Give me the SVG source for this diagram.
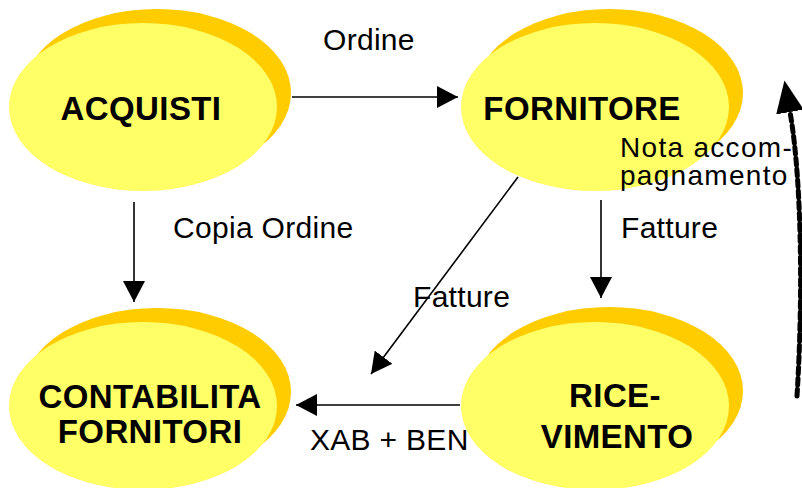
<svg xmlns="http://www.w3.org/2000/svg" width="802" height="488" viewBox="0 0 802 488">
  <style>
    .shadow { fill: #FFCC00; }
    .body { fill: #FFFF66; }
    .name { font-family: "Liberation Sans", Arial, sans-serif; font-weight: bold; font-size: 33px; text-anchor: middle; fill: #000; letter-spacing: 0.4px; }
    .lbl { font-family: "Liberation Sans", Arial, sans-serif; font-size: 30px; fill: #000; letter-spacing: 0.3px; }
    .note { font-family: "Liberation Sans", Arial, sans-serif; font-size: 28px; fill: #000; letter-spacing: 1.3px; }
    .flow { stroke: #000; stroke-width: 1.6; fill: none; marker-end: url(#arrow); }
    .dash { stroke: #000; stroke-width: 5; fill: none; stroke-dasharray: 7 4; stroke-linecap: round; marker-end: url(#bigarrow); }
  </style>
  <defs>
    <marker id="arrow" viewBox="0 0 21 22" refX="21" refY="11" markerWidth="21" markerHeight="22" markerUnits="userSpaceOnUse" orient="auto">
      <path d="M0,0 L21,11 L0,22 z" fill="#000"/>
    </marker>
    <marker id="bigarrow" viewBox="0 0 32 28" refX="0" refY="14" markerWidth="32" markerHeight="28" markerUnits="userSpaceOnUse" orient="auto">
      <path d="M0,0 L32,14 L0,28 z" fill="#000" stroke="none"/>
    </marker>
  </defs>

  <rect width="802" height="488" fill="#fff"/>

  <!-- nodes: orange offset ellipse behind a yellow ellipse -->
  <g id="acquisti">
    <ellipse class="shadow" cx="157" cy="93" rx="134" ry="84"/>
    <ellipse class="body" cx="143" cy="107" rx="134" ry="84"/>
    <text class="name" x="141" y="120">ACQUISTI</text>
  </g>
  <g id="fornitore">
    <ellipse class="shadow" cx="609" cy="93" rx="134" ry="84"/>
    <ellipse class="body" cx="595" cy="107" rx="134" ry="84"/>
    <text class="name" x="582" y="120">FORNITORE</text>
  </g>
  <g id="contabilita">
    <ellipse class="shadow" cx="157" cy="392" rx="134" ry="84"/>
    <ellipse class="body" cx="143" cy="406" rx="134" ry="84"/>
    <text class="name" x="150" y="408">CONTABILITA</text>
    <text class="name" x="150" y="443">FORNITORI</text>
  </g>
  <g id="ricevimento">
    <ellipse class="shadow" cx="609" cy="391" rx="134" ry="84"/>
    <ellipse class="body" cx="595" cy="406" rx="134" ry="84"/>
    <text class="name" x="615" y="407">RICE-</text>
    <text class="name" x="617" y="448">VIMENTO</text>
  </g>

  <!-- connectors -->
  <g id="connectors">
    <line class="flow" x1="292" y1="97" x2="458" y2="97"/>
    <line class="flow" x1="134" y1="202" x2="134" y2="302"/>
    <line class="flow" x1="601" y1="200" x2="601" y2="298"/>
    <line class="flow" x1="518" y1="177" x2="371" y2="374"/>
    <line class="flow" x1="460" y1="405" x2="296" y2="405"/>
    <path class="dash" d="M797,396 C803,300 802,180 790,112"/>
  </g>

  <!-- connector labels -->
  <g id="labels">
    <text class="lbl" x="323" y="50">Ordine</text>
    <text class="lbl" x="173" y="238">Copia Ordine</text>
    <text class="lbl" x="621" y="238">Fatture</text>
    <text class="lbl" x="413" y="307">Fatture</text>
    <text class="lbl" x="310" y="450">XAB + BEN</text>
    <text class="note" x="620" y="157">Nota accom-</text>
    <text class="note" x="620" y="185">pagnamento</text>
  </g>
</svg>
